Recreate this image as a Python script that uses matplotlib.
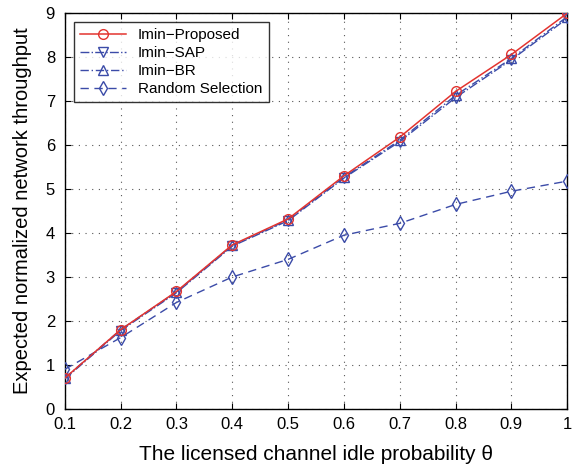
import numpy as np
import matplotlib
matplotlib.use("Agg")
from matplotlib import pyplot as plt

plt.rcParams['font.family'] = ['Liberation Sans', 'DejaVu Sans']

theta = [0.1, 0.2, 0.3, 0.4, 0.5, 0.6, 0.7, 0.8, 0.9, 1.0]
proposed = [0.70, 1.80, 2.67, 3.73, 4.32, 5.30, 6.18, 7.22, 8.06, 9.00]
sap = [0.68, 1.78, 2.64, 3.70, 4.28, 5.25, 6.08, 7.08, 7.94, 8.88]
br = [0.70, 1.80, 2.66, 3.72, 4.30, 5.27, 6.11, 7.13, 7.97, 8.92]
random_sel = [0.90, 1.62, 2.42, 3.00, 3.40, 3.95, 4.22, 4.65, 4.95, 5.18]
xlabels = ["0.1", "0.2", "0.3", "0.4", "0.5", "0.6", "0.7", "0.8", "0.9", "1"]

red = "#e3342f"
blue = "#3b4ba8"

fig = plt.figure(figsize=(5.73, 4.7), dpi=100)
ax = fig.add_axes([0.113, 0.13, 0.877, 0.842])

ax.plot(theta, proposed, color=red, lw=1.1, marker="o", ms=7, mfc="none",
        mec=red, label="Imin\u2212Proposed", zorder=5)
ax.plot(theta, sap, color=blue, lw=1.0, ls="-.", marker="v", ms=7, mfc="none",
        mec=blue, label="Imin\u2212SAP", zorder=4)
ax.plot(theta, br, color=blue, lw=1.0, ls=(0, (6, 2, 1, 2)), marker="^", ms=7,
        mfc="none", mec=blue, label="Imin\u2212BR", zorder=4)
ax.plot(theta, random_sel, color=blue, lw=1.0, ls=(0, (6, 4)), marker="d", ms=7,
        mfc="none", mec=blue, label="Random Selection", zorder=3)

ax.set_xlim(0.1, 1.0)
ax.set_ylim(0, 9)
ax.set_xticks(theta)
ax.set_xticklabels(xlabels)
ax.set_yticks(range(10))
ax.grid(True, ls=(0, (1, 5)), color="#555555", lw=0.8)
ax.tick_params(direction="in", top=True, right=True, labelsize=12, length=4)
ax.tick_params(axis="x", pad=6)
ax.tick_params(axis="y", pad=7)
for s in ax.spines.values():
    s.set_linewidth(1.0)

ax.set_xlabel("The licensed channel idle probability \u03b8", fontsize=15,
              labelpad=9)
ax.set_ylabel("Expected normalized network throughput", fontsize=14.5,
              labelpad=10)

leg = ax.legend(loc="upper left", fontsize=11, frameon=True, fancybox=False,
                edgecolor="black", handlelength=3, borderaxespad=0.6,
                labelspacing=0.25, borderpad=0.4)
leg.get_frame().set_linewidth(1.0)

plt.savefig("out.png", dpi=100)
